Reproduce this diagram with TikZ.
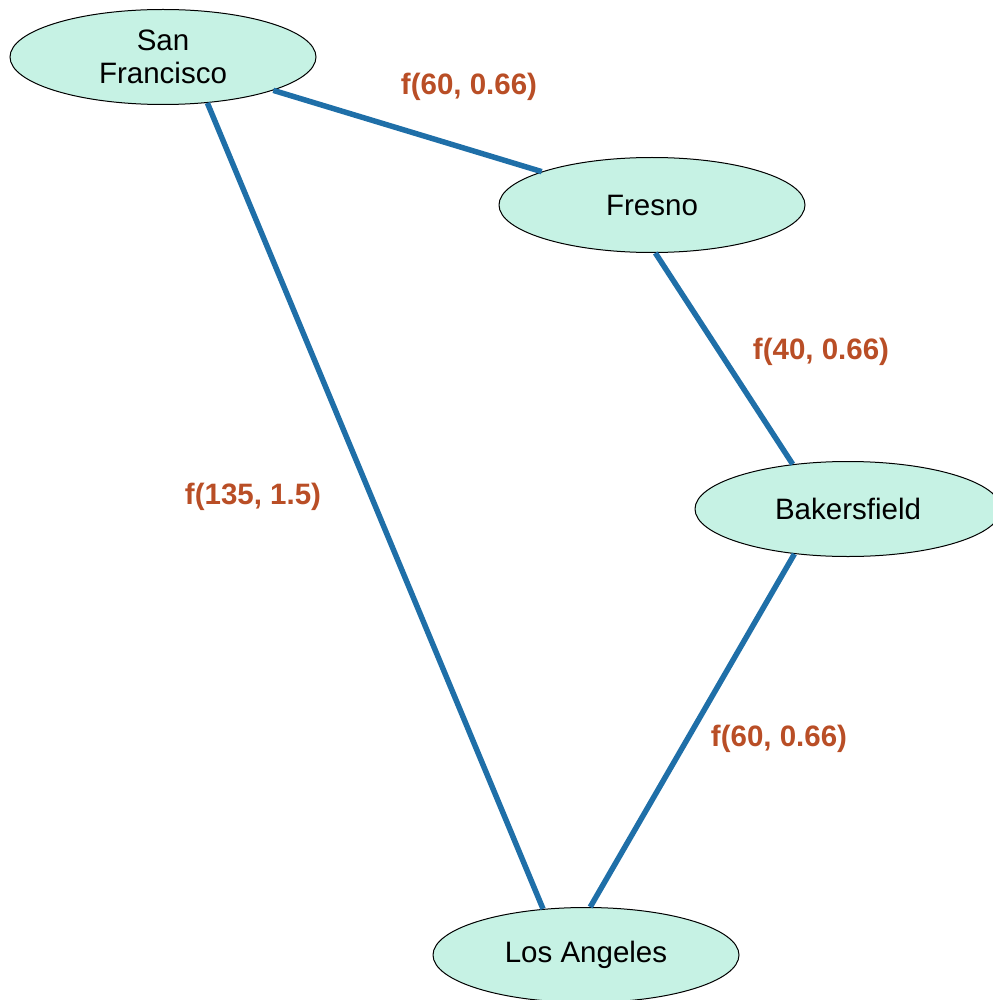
\documentclass[tikz,border=0pt]{standalone}
\usepackage{fontspec}
\setmainfont{Liberation Sans}
\usetikzlibrary{shapes.geometric}
\definecolor{mint}{HTML}{C6F2E4}
\definecolor{edgeblue}{HTML}{1F6FA8}
\definecolor{lblcol}{HTML}{B94E26}
\tikzset{
  city/.style={ellipse, draw=black, line width=1pt, fill=mint, minimum width=306pt, minimum height=95pt, inner sep=0pt, align=center, font=\fontsize{29.5}{33}\selectfont},
  road/.style={draw=edgeblue, line width=5.5pt},
  cost/.style={text=lblcol, font=\fontsize{29.5}{32}\selectfont\bfseries, inner sep=0pt}
}
\begin{document}
\begin{tikzpicture}[x=1pt,y=-1pt]
\useasboundingbox (0,0) rectangle (992,1000);
\node[city] (sf) at (163,57) {San\\Francisco};
\node[city] (fr) at (652,205) {Fresno};
\node[city] (bk) at (848,509) {Bakersfield};
\node[city] (la) at (586,955) {Los Angeles};
\draw[road] (sf) -- (fr);
\draw[road] (sf.-46) -- (la.133);
\draw[road] (fr.-86) -- (bk.141);
\draw[road] (bk.-140) -- (la.85);
\node[cost] (l1) at (469,87) {f(60, 0.66)};
\node[cost] (l2) at (821,352) {f(40, 0.66)};
\node[cost] (l3) at (253,497) {f(135, 1.5)};
\node[cost] (l4) at (779,739) {f(60, 0.66)};
\end{tikzpicture}
\end{document}
